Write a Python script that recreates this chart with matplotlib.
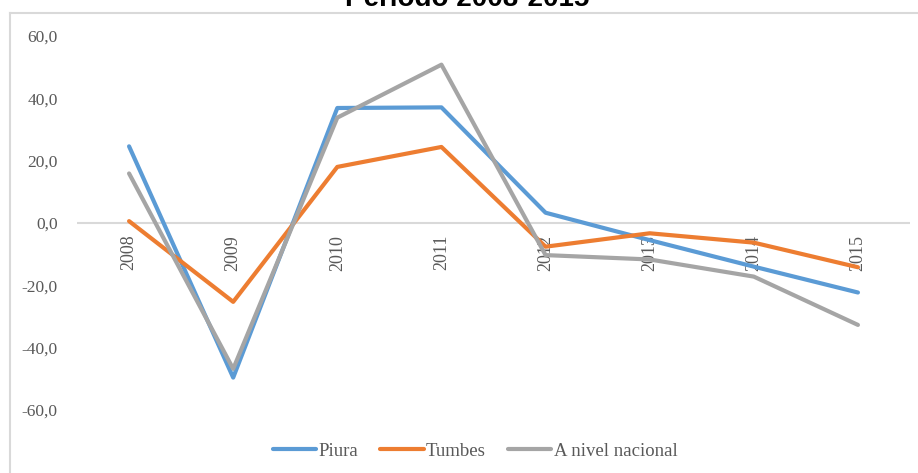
import matplotlib
matplotlib.use("Agg")
import matplotlib.pyplot as plt
from matplotlib.lines import Line2D
from matplotlib.ticker import FuncFormatter

# Variación porcentual anual, periodo 2008-2015
years = ["2008", "2009", "2010", "2011", "2012", "2013", "2014", "2015"]
piura = [24.6, -49.6, 36.9, 37.1, 3.3, -5.5, -14.0, -22.3]
tumbes = [0.6, -25.3, 18.0, 24.4, -7.6, -3.3, -6.3, -14.2]
nacional = [15.9, -46.8, 33.8, 50.8, -10.3, -11.7, -17.2, -32.7]
series_names = ["Piura", "Tumbes", "A nivel nacional"]
colors = ["#5B9BD5", "#ED7D31", "#A5A5A5"]
yticks = [-60, -40, -20, 0, 20, 40, 60]

W, H = 918, 473
fig = plt.figure(figsize=(W / 100, H / 100), dpi=100)
fig.patch.set_facecolor("white")

serif = ["Liberation Serif", "DejaVu Serif"]
label_color = "#595959"

# chart frame (top and left edges)
frame_color = "#D9D9D9"
fig.add_artist(Line2D([10 / W, 1.0], [1 - 13 / H, 1 - 13 / H], color=frame_color, lw=1.5,
                      transform=fig.transFigure))
fig.add_artist(Line2D([10 / W, 10 / W], [0.0, 1 - 13 / H], color=frame_color, lw=1.5,
                      transform=fig.transFigure))

# title
fig.text(467 / W, 1 - 6 / H, "Periodo 2008-2015", ha="center", va="baseline",
         fontsize=20, fontweight="bold", family=["Liberation Sans", "DejaVu Sans"], color="black")

left, right = 77 / W, 910 / W
top, bottom = 1 - 36 / H, 1 - 410 / H
ax = fig.add_axes([left, bottom, right - left, top - bottom])
ax.set_xlim(-0.5, len(years) - 0.5)
ax.set_ylim(-60, 60)
for s in ax.spines.values():
    s.set_visible(False)
ax.axhline(0, color="#D9D9D9", lw=1.5, zorder=1)

x = list(range(len(years)))
for vals, name, c in zip([piura, tumbes, nacional], series_names, colors):
    ax.plot(x, vals, color=c, lw=3.0, solid_capstyle="round", solid_joinstyle="round",
            label=name, zorder=3)

ax.set_yticks(yticks)
ax.yaxis.set_major_formatter(FuncFormatter(lambda v, p: f"{v:.1f}".replace(".", ",")))
ax.tick_params(axis="y", length=0, pad=14, labelcolor=label_color, labelsize=12.5)
for t in ax.get_yticklabels():
    t.set_fontfamily(serif)

ax.set_xticks([])
for i, yr in enumerate(years):
    ax.text(i, -3.8, yr, rotation=90, ha="center", va="top", fontsize=13,
            family=serif, color=label_color, zorder=2)

handles = [Line2D([0], [0], color=c, lw=3.0, solid_capstyle="round") for c in colors]
fig.legend(handles, series_names, loc="center", bbox_to_anchor=(475 / W, 1 - 451 / H),
           ncol=3, frameon=False, handlelength=2.3, handletextpad=0.12, columnspacing=1.2,
           prop={"family": serif, "size": 13.5}, labelcolor=label_color)

fig.savefig("out.png", dpi=100, facecolor="white")
